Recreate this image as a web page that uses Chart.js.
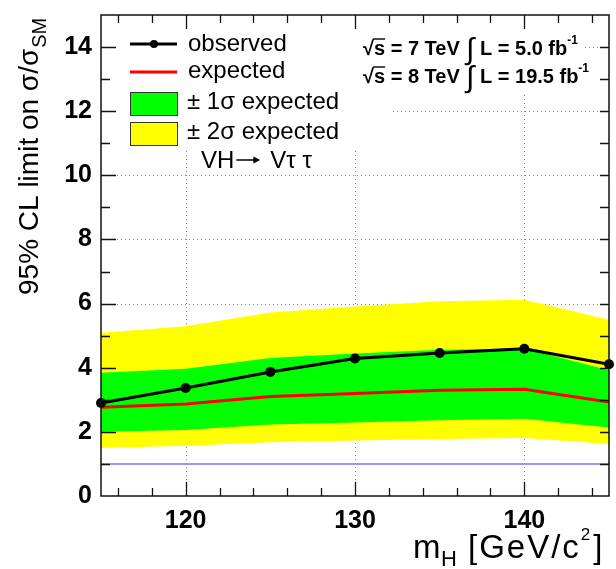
<!DOCTYPE html>
<html>
<head>
<meta charset="utf-8">
<script src="https://cdn.jsdelivr.net/npm/chart.js@4.4.1/dist/chart.umd.min.js"></script>
<style>
  html, body { margin: 0; padding: 0; background: #fff; }
  #wrap { width: 616px; height: 569px; position: relative; }
</style>
</head>
<body>
<div id="wrap"><canvas id="c" width="616" height="569"></canvas></div>
<script>
// Higgs mass points [GeV/c^2]
const masses   = [115, 120, 125, 130, 135, 140, 145];
// 95% CL upper limits on sigma/sigma_SM
const observed = [2.90, 3.37, 3.87, 4.29, 4.46, 4.59, 4.11];
const expected = [2.77, 2.87, 3.10, 3.20, 3.30, 3.33, 2.93];
const band1Up   = [3.84, 3.97, 4.30, 4.44, 4.56, 4.60, 3.92];
const band1Down = [2.00, 2.06, 2.23, 2.29, 2.36, 2.41, 2.14];
const band2Up   = [5.09, 5.29, 5.72, 5.91, 6.07, 6.12, 5.50];
const band2Down = [1.50, 1.57, 1.68, 1.73, 1.78, 1.81, 1.62];
// SM reference line
const smLine = [1, 1];
const smRange = [115, 145];
// axis tick labels
const xTickValues = [120, 130, 140];
const yTickValues = [0, 2, 4, 6, 8, 10, 12, 14];

const pts = (xs, ys) => xs.map((v, i) => ({ x: v, y: ys[i] }));
const FONT = '"Liberation Sans", Arial, Helvetica, sans-serif';

const decorations = {
  id: 'decorations',
  beforeDatasetsDraw(chart) {
    const { ctx, chartArea: a, scales: { x, y } } = chart;
    ctx.save();
    // dotted grid at the labelled ticks
    ctx.strokeStyle = '#8c8c8c';
    ctx.lineWidth = 1;
    ctx.setLineDash([1, 3]);
    xTickValues.forEach(v => {
      const px = Math.round(x.getPixelForValue(v)) + 0.5;
      ctx.beginPath(); ctx.moveTo(px, a.top); ctx.lineTo(px, a.bottom); ctx.stroke();
    });
    yTickValues.filter(v => v > 0).forEach(v => {
      const py = Math.round(y.getPixelForValue(v)) + 0.5;
      ctx.beginPath(); ctx.moveTo(a.left, py); ctx.lineTo(a.right, py); ctx.stroke();
    });
    ctx.setLineDash([]);
    // opaque legend and energy/lumi boxes
    ctx.fillStyle = '#fff';
    ctx.fillRect(a.left, a.top, 289, 135);
    ctx.fillRect(355, a.top, 230, 77);
    ctx.restore();
  },
  afterDatasetsDraw(chart) {
    const { ctx, chartArea: a, scales: { x, y } } = chart;
    ctx.save();
    // frame
    ctx.strokeStyle = '#111';
    ctx.lineWidth = 1.5;
    ctx.strokeRect(a.left, a.top, a.right - a.left, a.bottom - a.top);
    // inner tick marks on all four sides
    ctx.lineWidth = 1.3;
    for (let v = 116; v < 145; v += 2) {
      const px = Math.round(x.getPixelForValue(v)) + 0.5;
      const len = (v % 10 === 0) ? 14 : 8;
      ctx.beginPath();
      ctx.moveTo(px, a.bottom); ctx.lineTo(px, a.bottom - len);
      ctx.moveTo(px, a.top); ctx.lineTo(px, a.top + len);
      ctx.stroke();
    }
    for (let v = 1; v < 15; v += 1) {
      const py = Math.round(y.getPixelForValue(v)) + 0.5;
      const len = (v % 2 === 0) ? 15 : 9;
      ctx.beginPath();
      ctx.moveTo(a.left, py); ctx.lineTo(a.left + len, py);
      ctx.moveTo(a.right, py); ctx.lineTo(a.right - 9, py);
      ctx.stroke();
    }

    // legend
    ctx.fillStyle = '#000';
    ctx.textBaseline = 'alphabetic';
    ctx.textAlign = 'left';
    ctx.font = '24px ' + FONT;
    // observed
    ctx.strokeStyle = '#000'; ctx.lineWidth = 3;
    ctx.beginPath(); ctx.moveTo(130, 44); ctx.lineTo(177, 44); ctx.stroke();
    ctx.beginPath(); ctx.arc(154, 44, 4, 0, Math.PI * 2); ctx.fill();
    ctx.fillText('observed', 188, 51);
    // expected
    ctx.strokeStyle = '#ff0000';
    ctx.beginPath(); ctx.moveTo(130, 72); ctx.lineTo(177, 72); ctx.stroke();
    ctx.fillText('expected', 188, 78);
    // bands
    ctx.lineWidth = 1;
    ctx.strokeStyle = '#333';
    ctx.fillStyle = '#00ff00';
    ctx.fillRect(130, 92, 47, 23); ctx.strokeRect(130.5, 92.5, 47, 23);
    ctx.fillStyle = '#ffff00';
    ctx.fillRect(130, 122, 47, 23); ctx.strokeRect(130.5, 122.5, 47, 23);
    ctx.fillStyle = '#000';
    ctx.fillText('\u00B1 1\u03C3 expected', 187, 109);
    ctx.fillText('\u00B1 2\u03C3 expected', 187, 139);
    // process label with a long arrow
    ctx.fillText('VH', 201, 168);
    let ax = 201 + ctx.measureText('VH').width + 2;
    ctx.lineWidth = 1.5; ctx.strokeStyle = '#000';
    ctx.beginPath(); ctx.moveTo(ax, 160); ctx.lineTo(ax + 22, 160); ctx.stroke();
    ctx.beginPath(); ctx.moveTo(ax + 24, 160); ctx.lineTo(ax + 17, 156.5); ctx.lineTo(ax + 17, 163.5); ctx.closePath(); ctx.fill();
    ctx.fillText('V\u03C4 \u03C4', ax + 34, 168);

    // energy / luminosity labels
    const lumiLine = (yb, sqrtS, lumi) => {
      let cx = 363;
      ctx.font = 'bold 20px ' + FONT;
      ctx.fillText('\u221A', cx, yb);
      cx += ctx.measureText('\u221A').width;
      ctx.fillText('s', cx, yb);
      const sw = ctx.measureText('s').width;
      ctx.lineWidth = 1.4; ctx.strokeStyle = '#000';
      ctx.beginPath(); ctx.moveTo(cx - 1, yb - 16); ctx.lineTo(cx + sw, yb - 16); ctx.stroke();
      cx += sw;
      ctx.fillText(' = ' + sqrtS + ' TeV', cx, yb);
      ctx.font = '30px ' + FONT;
      ctx.fillText('\u222B', 466, yb + 4);
      ctx.font = 'bold 20px ' + FONT;
      const t2 = 'L = ' + lumi + ' fb';
      ctx.fillText(t2, 480, yb);
      cx = 480 + ctx.measureText(t2).width;
      ctx.font = 'bold 12px ' + FONT;
      ctx.fillText('-1', cx, yb - 11);
    };
    lumiLine(55, '7', '5.0');
    lumiLine(83, '8', '19.5');

    // y title
    ctx.save();
    ctx.translate(38, 295);
    ctx.rotate(-Math.PI / 2);
    ctx.font = '28px ' + FONT;
    const yt = '95% CL limit on \u03C3/\u03C3';
    ctx.fillText(yt, 0, 0);
    const ytw = ctx.measureText(yt).width;
    ctx.font = '20px ' + FONT;
    ctx.fillText('SM', ytw + 1, 8);
    ctx.restore();

    // x title
    ctx.font = '33px ' + FONT;
    ctx.fillText('m', 413, 558);
    ctx.font = '22px ' + FONT;
    ctx.fillText('H', 441, 566);
    ctx.font = '33px ' + FONT;
    ctx.letterSpacing = '2px';
    const xt = '[GeV/c';
    ctx.fillText(xt, 468, 558);
    let xe = 468 + ctx.measureText(xt).width;
    ctx.letterSpacing = '0px';
    ctx.font = '17px ' + FONT;
    ctx.fillText('2', xe, 540);
    xe += ctx.measureText('2').width + 2;
    ctx.font = '33px ' + FONT;
    ctx.fillText(']', xe + 1, 558);
    ctx.restore();
  }
};

new Chart(document.getElementById('c'), {
  type: 'line',
  data: {
    datasets: [
      { data: pts(masses, band2Down), borderWidth: 0, pointRadius: 0, fill: false, order: 6 },
      { data: pts(masses, band2Up), borderWidth: 0, pointRadius: 0, fill: { target: 0 },
        backgroundColor: '#ffff00', order: 5 },
      { data: pts(masses, band1Down), borderWidth: 0, pointRadius: 0, fill: false, order: 4 },
      { data: pts(masses, band1Up), borderWidth: 0, pointRadius: 0, fill: { target: 2 },
        backgroundColor: '#00ff00', order: 3 },
      { data: pts(smRange, smLine), borderColor: '#7878f8', borderWidth: 1.6, pointRadius: 0,
        fill: false, order: 2 },
      { data: pts(masses, expected), borderColor: '#ff0000', borderWidth: 3, pointRadius: 0,
        fill: false, order: 1 },
      { data: pts(masses, observed), borderColor: '#000', borderWidth: 3, pointRadius: 5,
        pointBackgroundColor: '#000', pointBorderWidth: 0, fill: false, clip: false, order: 0 }
    ]
  },
  options: {
    responsive: false,
    animation: false,
    events: [],
    layout: { padding: { left: 0, top: 15, right: 7, bottom: 0 } },
    plugins: { legend: { display: false }, tooltip: { enabled: false }, title: { display: false } },
    elements: { line: { tension: 0 } },
    scales: {
      x: {
        type: 'linear', min: 115, max: 145,
        afterBuildTicks: s => { s.ticks = xTickValues.map(v => ({ value: v })); },
        afterFit: s => { s.height = 73; s.paddingLeft = 0; s.paddingRight = 0; },
        grid: { display: false, drawTicks: false },
        border: { display: false },
        ticks: { color: '#000', padding: 10, maxRotation: 0, font: { family: FONT, size: 25, weight: 'bold' } }
      },
      y: {
        type: 'linear', min: 0, max: 15,
        afterBuildTicks: s => { s.ticks = yTickValues.map(v => ({ value: v })); },
        afterFit: s => { s.width = 101; s.paddingTop = 0; s.paddingBottom = 0; },
        grid: { display: false, drawTicks: false },
        border: { display: false },
        ticks: { color: '#000', padding: 9, font: { family: FONT, size: 25, weight: 'bold' } }
      }
    }
  },
  plugins: [decorations]
});
</script>
</body>
</html>
